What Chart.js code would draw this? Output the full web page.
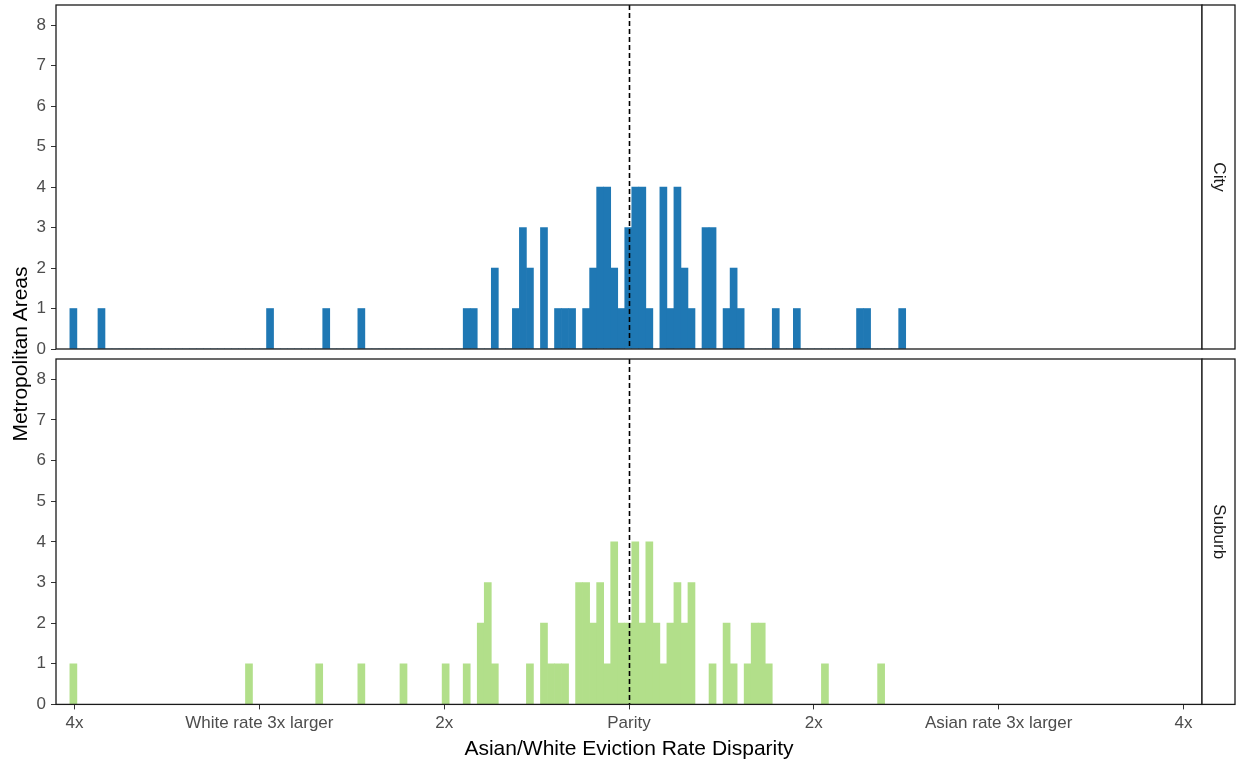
<!DOCTYPE html>
<html>
<head>
<meta charset="utf-8">
<script src="https://cdn.jsdelivr.net/npm/chart.js@4.4.1/dist/chart.umd.min.js"></script>
<style>
  body { margin: 0; background: #fff; }
  #wrap { position: relative; width: 1236px; height: 765px; overflow: hidden; }
  .panel { position: absolute; left: 0; width: 1236px; }
  #ytitle {
    position: absolute; left: -130px; top: 342px; width: 300px; height: 24px;
    line-height: 24px; text-align: center; transform: rotate(-90deg);
    font: 21px "Liberation Sans", Arial, sans-serif; color: #000;
  }
</style>
</head>
<body>
<div id="wrap">
  <div class="panel" style="top:0;height:355px"><canvas id="cityChart"></canvas></div>
  <div class="panel" style="top:355px;height:410px"><canvas id="suburbChart"></canvas></div>
  <div id="ytitle">Metropolitan Areas</div>
</div>
<script>
// histogram bins: left edge of first bin and bin width (in disparity units)
const binStart = -3.025;
const binWidth = 0.038;

// counts per bin (bins 0..118)
const cityCounts = [
  1, 0, 0, 0, 1, 0, 0, 0, 0, 0,
  0, 0, 0, 0, 0, 0, 0, 0, 0, 0,
  0, 0, 0, 0, 0, 0, 0, 0, 1, 0,
  0, 0, 0, 0, 0, 0, 1, 0, 0, 0,
  0, 1, 0, 0, 0, 0, 0, 0, 0, 0,
  0, 0, 0, 0, 0, 0, 1, 1, 0, 0,
  2, 0, 0, 1, 3, 2, 0, 3, 0, 1,
  1, 1, 0, 1, 2, 4, 4, 2, 1, 3,
  4, 4, 1, 0, 4, 1, 4, 2, 1, 0,
  3, 3, 0, 1, 2, 1, 0, 0, 0, 0,
  1, 0, 0, 1, 0, 0, 0, 0, 0, 0,
  0, 0, 1, 1, 0, 0, 0, 0, 1,
];

const suburbCounts = [
  1, 0, 0, 0, 0, 0, 0, 0, 0, 0,
  0, 0, 0, 0, 0, 0, 0, 0, 0, 0,
  0, 0, 0, 0, 0, 1, 0, 0, 0, 0,
  0, 0, 0, 0, 0, 1, 0, 0, 0, 0,
  0, 1, 0, 0, 0, 0, 0, 1, 0, 0,
  0, 0, 0, 1, 0, 0, 1, 0, 2, 3,
  1, 0, 0, 0, 0, 1, 0, 2, 1, 1,
  1, 0, 3, 3, 2, 3, 1, 4, 2, 2,
  4, 2, 4, 2, 1, 2, 3, 2, 3, 0,
  0, 1, 0, 2, 1, 0, 1, 2, 2, 1,
  0, 0, 0, 0, 0, 0, 0, 1, 0, 0,
  0, 0, 0, 0, 0, 1, 0, 0, 0,
];

const xTickValues = [-3, -2, -1, 0, 1, 2, 3];
const xTickLabels = ["4x", "White rate 3x larger", "2x", "Parity", "2x", "Asian rate 3x larger", "4x"];
const yTickValues = [0, 1, 2, 3, 4, 5, 6, 7, 8];

const FONT = "'Liberation Sans', Arial, sans-serif";

const toPoints = function (counts) {
  return counts.map((c, i) => ({ x: binStart + binWidth * (i + 0.5), y: c }));
};

// panel box, strip on the right and the dashed parity line
const panelDecor = {
  id: "panelDecor",
  afterDatasetsDraw(chart, args, opts) {
    const { ctx, chartArea: a, scales } = chart;
    const x0 = Math.round(scales.x.getPixelForValue(0)) + 0.5;
    ctx.save();
    ctx.strokeStyle = "#000";
    ctx.lineWidth = 1.6;
    ctx.setLineDash([5, 3]);
    ctx.beginPath();
    ctx.moveTo(x0, a.top);
    ctx.lineTo(x0, a.bottom);
    ctx.stroke();
    ctx.setLineDash([]);

    ctx.strokeStyle = "#1a1a1a";
    ctx.lineWidth = 1.3;
    ctx.strokeRect(a.left, a.top, a.right - a.left, a.bottom - a.top);
    ctx.fillStyle = "#fff";
    ctx.fillRect(a.right, a.top, 33, a.bottom - a.top);
    ctx.strokeRect(a.right, a.top, 33, a.bottom - a.top);

    ctx.translate(a.right + 16.5, (a.top + a.bottom) / 2);
    ctx.rotate(Math.PI / 2);
    ctx.font = "17px " + FONT;
    ctx.fillStyle = "#1a1a1a";
    ctx.textAlign = "center";
    ctx.textBaseline = "middle";
    ctx.fillText(opts.label, 0, 0);
    ctx.restore();
  },
};

const noPad = function (scale) {
  scale.paddingTop = 0;
  scale.paddingBottom = 0;
  scale.paddingLeft = 0;
  scale.paddingRight = 0;
};

const makePanel = function (id, counts, color, strip, showX, padding) {
  const ctx = document.getElementById(id).getContext("2d");
  return new Chart(ctx, {
    type: "bar",
    data: {
      datasets: [
        {
          label: strip,
          data: toPoints(counts),
          backgroundColor: color,
          borderWidth: 0,
          barPercentage: 1,
          categoryPercentage: 1,
        },
      ],
    },
    options: {
      responsive: true,
      maintainAspectRatio: false,
      animation: false,
      layout: { padding: padding },
      scales: {
        x: {
          type: "linear",
          display: showX,
          offset: false,
          min: -3.1,
          max: 3.1,
          afterBuildTicks: (scale) => {
            scale.ticks = xTickValues.map((v) => ({ value: v }));
          },
          afterFit: noPad,
          ticks: {
            autoSkip: false,
            maxRotation: 0,
            padding: 4,
            color: "#4d4d4d",
            font: { family: FONT, size: 17 },
            callback: (value, index) => xTickLabels[index],
          },
          grid: {
            offset: false,
            drawOnChartArea: false,
            drawTicks: true,
            tickLength: 5,
            color: "#333",
          },
          border: { display: false },
          title: {
            display: true,
            text: "Asian/White Eviction Rate Disparity",
            color: "#000",
            font: { family: FONT, size: 21 },
            padding: { top: -1, bottom: 0 },
          },
        },
        y: {
          min: 0,
          max: 8.5,
          afterFit: (scale) => {
            scale.width = 56;
            noPad(scale);
          },
          afterBuildTicks: (scale) => {
            scale.ticks = yTickValues.map((v) => ({ value: v }));
          },
          ticks: {
            padding: 5,
            color: "#4d4d4d",
            font: { family: FONT, size: 17 },
          },
          grid: {
            drawOnChartArea: false,
            drawTicks: true,
            tickLength: 5,
            color: "#333",
          },
          border: { display: false },
        },
      },
      plugins: {
        legend: { display: false },
        tooltip: { enabled: false },
        panelDecor: { label: strip },
      },
    },
    plugins: [panelDecor],
  });
};

const cityChart = makePanel("cityChart", cityCounts, "#1f78b4", "City", false,
  { left: 0, top: 5, right: 34, bottom: 6 });
const suburbChart = makePanel("suburbChart", suburbCounts, "#b2df8a", "Suburb", true,
  { left: 0, top: 4, right: 34, bottom: 3 });
</script>
</body>
</html>
